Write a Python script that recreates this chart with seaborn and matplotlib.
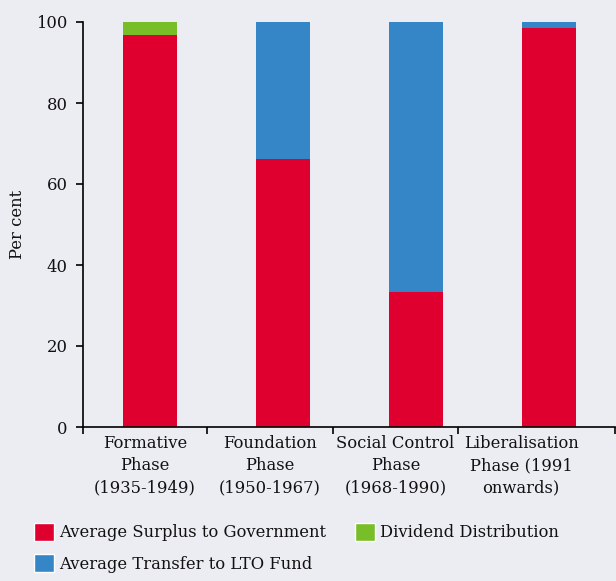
import matplotlib
matplotlib.use("Agg")
import matplotlib.pyplot as plt
import seaborn as sns
import pandas as pd
from matplotlib.patches import Patch

# ---- data ----
categories = ["Formative\nPhase\n(1935-1949)", "Foundation\nPhase\n(1950-1967)",
              "Social Control\nPhase\n(1968-1990)", "Liberalisation\nPhase (1991\nonwards)"]
surplus = [96.8, 66.2, 33.4, 98.4]
transfer = [0.0, 33.8, 66.6, 1.6]
dividend = [3.2, 0.0, 0.0, 0.0]
series_names = ["Average Surplus to Government", "Average Transfer to LTO Fund", "Dividend Distribution"]
yticks = [0, 20, 40, 60, 80, 100]

RED, BLUE, GREEN = "#E0002F", "#3586C6", "#78BE28"
BG = "#ECEDF3"
FS = 11.8
TXT = "#111111"

sns.set_theme(style="white")
plt.rcParams["font.family"] = ["DejaVu Serif"]
plt.rcParams["text.color"] = TXT
plt.rcParams["axes.labelcolor"] = TXT
plt.rcParams["xtick.color"] = TXT
plt.rcParams["ytick.color"] = TXT

df = pd.DataFrame({"cat": categories, "surplus": surplus, "transfer": transfer, "dividend": dividend})
df["lvl2"] = df["surplus"] + df["transfer"]
df["lvl3"] = df["lvl2"] + df["dividend"]

fig = plt.figure(figsize=(6.16, 5.81), dpi=100, facecolor=BG)
ax = fig.add_axes([83/616, 154/581, (615-83)/616, (427-22)/581])
ax.set_facecolor(BG)

W = 0.406
sns.barplot(data=df, x="cat", y="lvl3", color=GREEN, width=W, saturation=1, ax=ax, linewidth=0)
sns.barplot(data=df, x="cat", y="lvl2", color=BLUE, width=W, saturation=1, ax=ax, linewidth=0)
sns.barplot(data=df, x="cat", y="surplus", color=RED, width=W, saturation=1, ax=ax, linewidth=0)

ax.set_xlim(-0.504, 3.496)
ax.set_ylim(0, 100)
ax.set_yticks(yticks)
ax.set_yticklabels([str(v) for v in yticks], fontsize=FS, color=TXT)
ax.set_ylabel("Per cent", fontsize=FS, color=TXT)
ax.yaxis.set_label_coords(-0.108, 0.5)
ax.set_xlabel("")

# category labels centered between boundary ticks
label_pos = [-0.038, 0.902, 1.846, 2.79]
ax.set_xticks(label_pos)
ax.set_xticklabels(categories, fontsize=FS, linespacing=1.37, color=TXT)
ax.tick_params(axis="x", which="major", length=0, pad=6, bottom=False)
ax.set_xticks([-0.504, 0.4286, 1.376, 2.316, 3.496], minor=True)
ax.tick_params(axis="x", which="minor", bottom=True, length=5, width=1.2, color="black", direction="out")
ax.tick_params(axis="y", left=True, length=5, width=1.2, color="black", direction="out", pad=6)

for s in ["top", "right"]:
    ax.spines[s].set_visible(False)
for s in ["left", "bottom"]:
    ax.spines[s].set_color("black")
    ax.spines[s].set_linewidth(1.2)
ax.grid(False)

handles = [Patch(facecolor=RED, label=series_names[0]),
           Patch(facecolor=BLUE, label=series_names[1]),
           Patch(facecolor=GREEN, label=series_names[2])]
fig.legend(handles=handles, ncol=2, loc="upper left", bbox_to_anchor=(27/616, 1 - 516/581),
           frameon=False, fontsize=FS, handlelength=1.25, handleheight=1.35,
           handletextpad=0.3, labelspacing=0.78, columnspacing=1.75, borderaxespad=0)

fig.savefig("out.png", dpi=100, facecolor=BG)
